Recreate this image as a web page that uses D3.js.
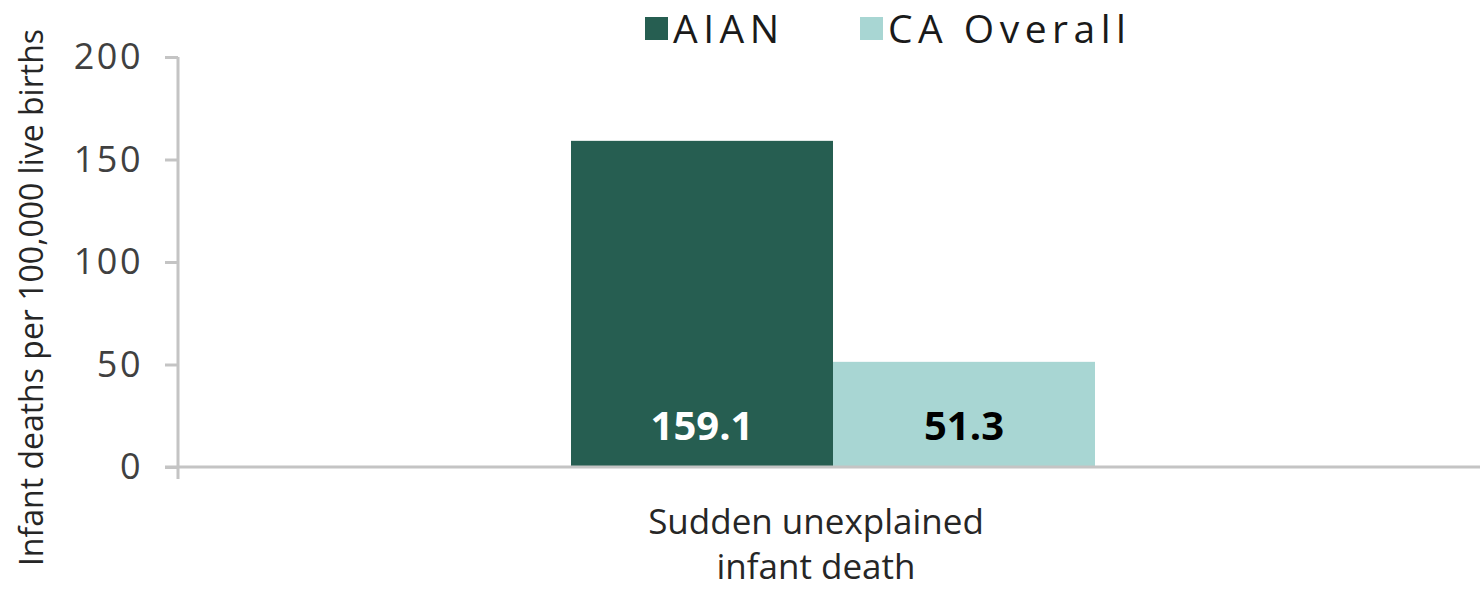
<!DOCTYPE html>
<html>
<head>
<meta charset="utf-8">
<script src="https://cdn.jsdelivr.net/npm/d3@7"></script>
<style>
  html, body { margin: 0; padding: 0; background: #fff; }
  svg { display: block; font-family: "Open Sans", "Noto Sans", sans-serif; }
</style>
</head>
<body>
<svg id="chart"></svg>
<script>
// Data
const categories = ['Sudden unexplained infant death'];
const categoryLines = [['Sudden unexplained', 'infant death']];
const seriesNames = ['AIAN', 'CA Overall'];
const seriesColors = ['#265e51', '#a8d6d3'];
const labelColors = ['#ffffff', '#000000'];
const aianValues = [159.1];
const caValues = [51.3];
const yTicks = [0, 50, 100, 150, 200];

const width = 1480;
const height = 589;
const margin = { left: 178, right: -8, top: 57, bottom: 122 };

const svg = d3.select('#chart').attr('width', width).attr('height', height);

const y = d3.scaleLinear()
    .domain([0, 200])
    .range([height - margin.bottom, margin.top]);

const x0 = d3.scaleBand()
    .domain(categories)
    .range([margin.left, width - margin.right])
    .paddingInner(0)
    .paddingOuter(0.75);

const x1 = d3.scaleBand()
    .domain(seriesNames)
    .range([0, x0.bandwidth()]);

const rows = categories.map((c, i) => ({
    category: c,
    values: [aianValues[i], caValues[i]]
}));

// Y axis
const yAxis = svg.append('g')
    .attr('transform', `translate(${margin.left},0)`)
    .call(d3.axisLeft(y).tickValues(yTicks).tickSize(13).tickPadding(22));
yAxis.select('.domain')
    .attr('d', `M0,${y(200)}V${y(0) + 12}`)
    .attr('stroke', '#c4c4c4')
    .attr('stroke-width', 3);
yAxis.selectAll('.tick line').attr('stroke', '#c4c4c4').attr('stroke-width', 3);
yAxis.selectAll('.tick text')
    .attr('fill', '#404040')
    .attr('font-size', 36)
    .attr('letter-spacing', 2.5)
    .attr('font-family', '"Open Sans", sans-serif');

// Bars
const groups = svg.append('g')
    .selectAll('g')
    .data(rows)
    .enter().append('g')
    .attr('transform', d => `translate(${x0(d.category)},0)`);

groups.selectAll('rect')
    .data(d => d.values.map((v, i) => ({ key: seriesNames[i], value: v, i })))
    .enter().append('rect')
    .attr('x', d => x1(d.key))
    .attr('y', d => y(d.value))
    .attr('width', x1.bandwidth())
    .attr('height', d => y(0) - y(d.value))
    .attr('fill', d => seriesColors[d.i]);

groups.selectAll('text.value')
    .data(d => d.values.map((v, i) => ({ key: seriesNames[i], value: v, i })))
    .enter().append('text')
    .attr('class', 'value')
    .attr('x', d => x1(d.key) + x1.bandwidth() / 2)
    .attr('y', y(0) - 27)
    .attr('text-anchor', 'middle')
    .attr('font-size', 40)
    .attr('font-weight', 'bold')
    .attr('fill', d => labelColors[d.i])
    .text(d => d.value.toFixed(1));

// Baseline (x axis)
svg.append('line')
    .attr('x1', margin.left - 13)
    .attr('x2', width)
    .attr('y1', y(0))
    .attr('y2', y(0))
    .attr('stroke', '#c4c4c4')
    .attr('stroke-width', 3);

// Category labels
categories.forEach((c, i) => {
    const cx = x0(c) + x0.bandwidth() / 2 - 17;
    const t = svg.append('text')
        .attr('x', cx)
        .attr('y', 534)
        .attr('text-anchor', 'middle')
        .attr('font-size', 35)
        .attr('fill', '#262626');
    categoryLines[i].forEach((line, j) => {
        t.append('tspan')
            .attr('x', cx)
            .attr('dy', j === 0 ? 0 : 45)
            .text(line);
    });
});

// Y axis title
svg.append('text')
    .attr('transform', `translate(43,${(30 + 565) / 2}) rotate(-90)`)
    .attr('text-anchor', 'middle')
    .attr('font-size', 32)
    .attr('fill', '#262626')
    .text('Infant deaths per 100,000 live births');

// Legend
const legendX = [645, 860];
const legend = svg.append('g')
    .selectAll('g')
    .data(seriesNames)
    .enter().append('g')
    .attr('transform', (d, i) => `translate(${legendX[i]},17)`);
legend.append('rect')
    .attr('width', 23)
    .attr('height', 23)
    .attr('fill', (d, i) => seriesColors[i]);
legend.append('text')
    .attr('x', 28)
    .attr('y', 26)
    .attr('font-size', 39)
    .attr('letter-spacing', 5.5)
    .attr('fill', '#1a1a1a')
    .text(d => d);
</script>
</body>
</html>
